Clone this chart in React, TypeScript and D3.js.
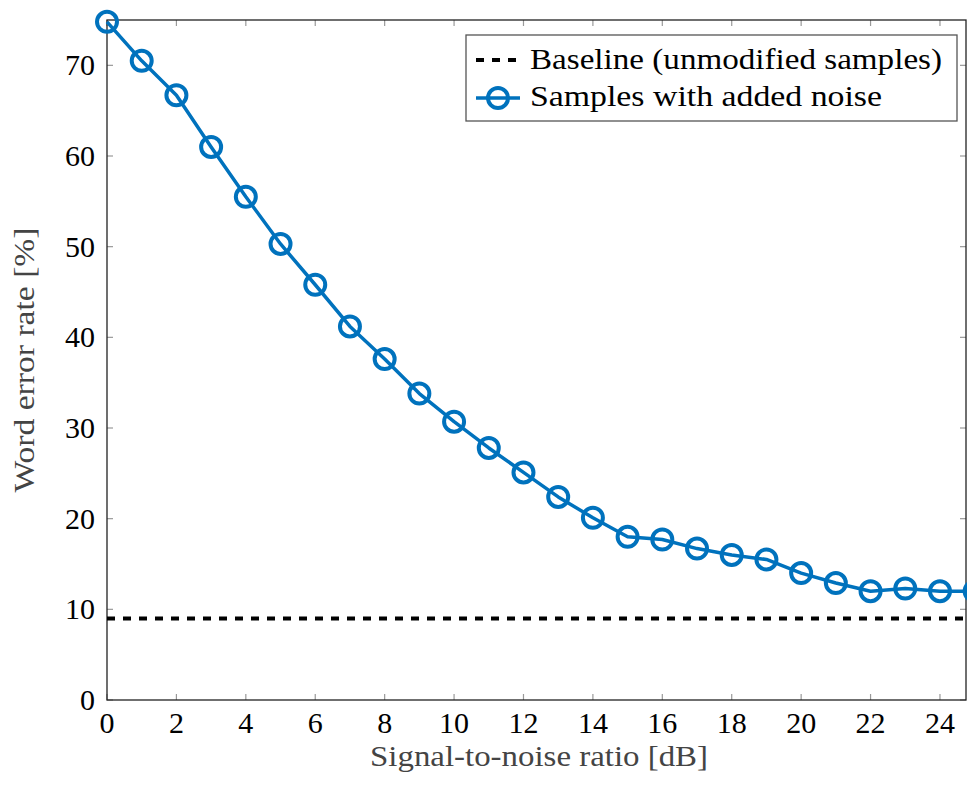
import React from "react";
import * as d3 from "d3";

const snr = [0,1,2,3,4,5,6,7,8,9,10,11,12,13,14,15,16,17,18,19,20,21,22,23,24,25];
const wer = [74.8,70.5,66.7,61.0,55.5,50.3,45.8,41.2,37.6,33.8,30.7,27.8,25.1,22.4,20.1,18.0,17.7,16.7,16.0,15.5,14.0,12.9,12.0,12.3,12.0,12.0];
const baseline = 9.0;
const xTicks = [0,2,4,6,8,10,12,14,16,18,20,22,24];
const yTicks = [0,10,20,30,40,50,60,70];
const legendLabels = ["Baseline (unmodified samples)", "Samples with added noise"];

const W = 967, H = 785;
const L = 107, R = 966, T = 20, B = 700;
const BLUE = "#0072BD";
const FONT = "'Liberation Serif', 'DejaVu Serif', serif";

export default function App() {
  const x = d3.scaleLinear().domain([0, 24.75]).range([L, R]);
  const y = d3.scaleLinear().domain([0, 75]).range([B, T]);
  const line = d3.line<number>().x((_, i) => x(snr[i])).y(d => y(d));
  const tickLen = 6;
  return (
    <svg width={W} height={H} style={{ position: "absolute", left: 0, top: 0, background: "#fff" }} fontFamily={FONT}>
      {xTicks.map(t => (
        <g key={"xt" + t}>
          <line x1={x(t)} x2={x(t)} y1={B} y2={B - tickLen} stroke="#999" strokeWidth={1.2} />
          <line x1={x(t)} x2={x(t)} y1={T} y2={T + tickLen} stroke="#999" strokeWidth={1.2} />
          <text x={x(t)} y={B + 33} fontSize={30} textAnchor="middle" fill="#000">{t}</text>
        </g>
      ))}
      {yTicks.map(t => (
        <g key={"yt" + t}>
          <line x1={L} x2={L + tickLen} y1={y(t)} y2={y(t)} stroke="#999" strokeWidth={1.2} />
          <line x1={R} x2={R - tickLen} y1={y(t)} y2={y(t)} stroke="#999" strokeWidth={1.2} />
          <text x={L - 12} y={y(t) + 10} fontSize={30} textAnchor="end" fill="#000">{t}</text>
        </g>
      ))}
      <rect x={L} y={T} width={R - L} height={B - T} fill="none" stroke="#222" strokeWidth={1.3} />
      <line x1={x(0)} x2={R} y1={y(baseline)} y2={y(baseline)} stroke="#000" strokeWidth={4} strokeDasharray="8 8" />
      <path d={line(wer) || ""} fill="none" stroke={BLUE} strokeWidth={3.5} strokeLinejoin="round" />
      {wer.map((v, i) => (
        <circle key={"c" + i} cx={x(snr[i])} cy={y(v)} r={10} fill="none" stroke={BLUE} strokeWidth={4} />
      ))}
      <text x={539} y={766} fontSize={30} textAnchor="middle" fill="#444" textLength={338} lengthAdjust="spacingAndGlyphs">Signal-to-noise ratio [dB]</text>
      <text transform={`translate(34, 360) rotate(-90)`} fontSize={30} textAnchor="middle" fill="#444" textLength={265} lengthAdjust="spacingAndGlyphs">Word error rate [%]</text>
      <rect x={466} y={35} width={491} height={86} fill="#fff" stroke="#555" strokeWidth={1.3} />
      <line x1={476} x2={520} y1={60} y2={60} stroke="#000" strokeWidth={4} strokeDasharray="8 8" />
      <text x={530} y={69} fontSize={30} fill="#000" textLength={412} lengthAdjust="spacingAndGlyphs">{legendLabels[0]}</text>
      <line x1={476} x2={520} y1={98} y2={98} stroke={BLUE} strokeWidth={3.5} />
      <circle cx={498} cy={98} r={10} fill="none" stroke={BLUE} strokeWidth={4} />
      <text x={530} y={106} fontSize={30} fill="#000" textLength={352} lengthAdjust="spacingAndGlyphs">{legendLabels[1]}</text>
    </svg>
  );
}
